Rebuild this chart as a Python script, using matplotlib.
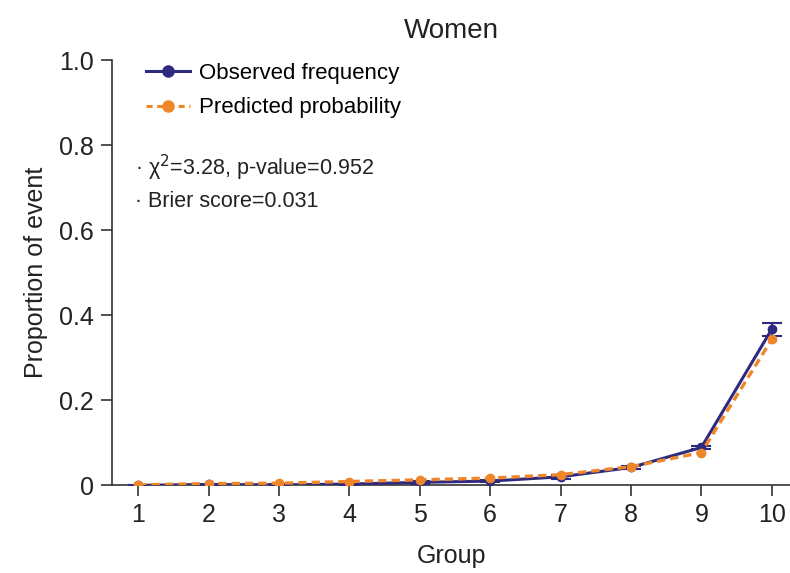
import matplotlib
matplotlib.use("Agg")
import matplotlib.pyplot as plt
from matplotlib.lines import Line2D

plt.rcParams['font.family'] = ['Liberation Sans', 'DejaVu Sans']

# values
groups = [1, 2, 3, 4, 5, 6, 7, 8, 9, 10]
observed = [0.000, 0.002, 0.001, 0.003, 0.007, 0.010, 0.020, 0.042, 0.089, 0.367]
obs_err = [0.001, 0.002, 0.002, 0.002, 0.003, 0.003, 0.004, 0.004, 0.004, 0.015]
predicted = [0.001, 0.004, 0.005, 0.009, 0.013, 0.017, 0.025, 0.044, 0.077, 0.343]
stats_lines = ["\u00b7 \u03c7$^2$=3.28, p-value=0.952", "\u00b7 Brier score=0.031"]

navy = "#2d2a80"
orange = "#f0862a"

fig = plt.figure(figsize=(7.9, 5.73), dpi=100)
ax = fig.add_axes([0.142, 0.153, 0.858, 0.742])

ax.errorbar(groups, observed, yerr=obs_err, color=navy, lw=2.2, marker="o", ms=6,
            capsize=7, elinewidth=1.5, capthick=1.5, zorder=3)
ax.plot(groups, predicted, color=orange, lw=2.4, ls=(0, (2.5, 1.5)), marker="o", ms=6, zorder=4)

ax.set_xlim(0.63, 10.26)
ax.set_ylim(0, 1.0)
ax.set_xticks(groups)
ax.set_yticks([0, 0.2, 0.4, 0.6, 0.8, 1.0])
ax.set_yticklabels(["0", "0.2", "0.4", "0.6", "0.8", "1.0"])
ax.tick_params(labelsize=18, length=8, width=1.2, color="#333333", labelcolor="#222222", pad=5)
for s in ["top", "right"]:
    ax.spines[s].set_visible(False)
for s in ["left", "bottom"]:
    ax.spines[s].set_linewidth(1.2)
    ax.spines[s].set_color("#333333")
ax.spines["left"].set_bounds(0, 1.0)

ax.set_xlabel("Group", fontsize=18, labelpad=12, color="#222222")
ax.set_ylabel("Proportion of event", fontsize=18, labelpad=8, color="#222222")
ax.set_title("Women", fontsize=20, pad=16, color="#222222")

handles = [Line2D([], [], color=navy, lw=2.2, marker="o", ms=8),
           Line2D([], [], color=orange, lw=2.2, ls=(0, (2, 1.5)), marker="o", ms=8)]
ax.legend(handles, ["Observed frequency", "Predicted probability"], loc="upper left",
          bbox_to_anchor=(0.02, 1.04), frameon=False, fontsize=16,
          handlelength=2.0, handletextpad=0.4, labelspacing=0.6)

ax.text(0.033, 0.73, stats_lines[0], transform=ax.transAxes, fontsize=15.5, color="#222222")
ax.text(0.033, 0.655, stats_lines[1], transform=ax.transAxes, fontsize=15.5, color="#222222")

fig.savefig("out.png", dpi=100)
